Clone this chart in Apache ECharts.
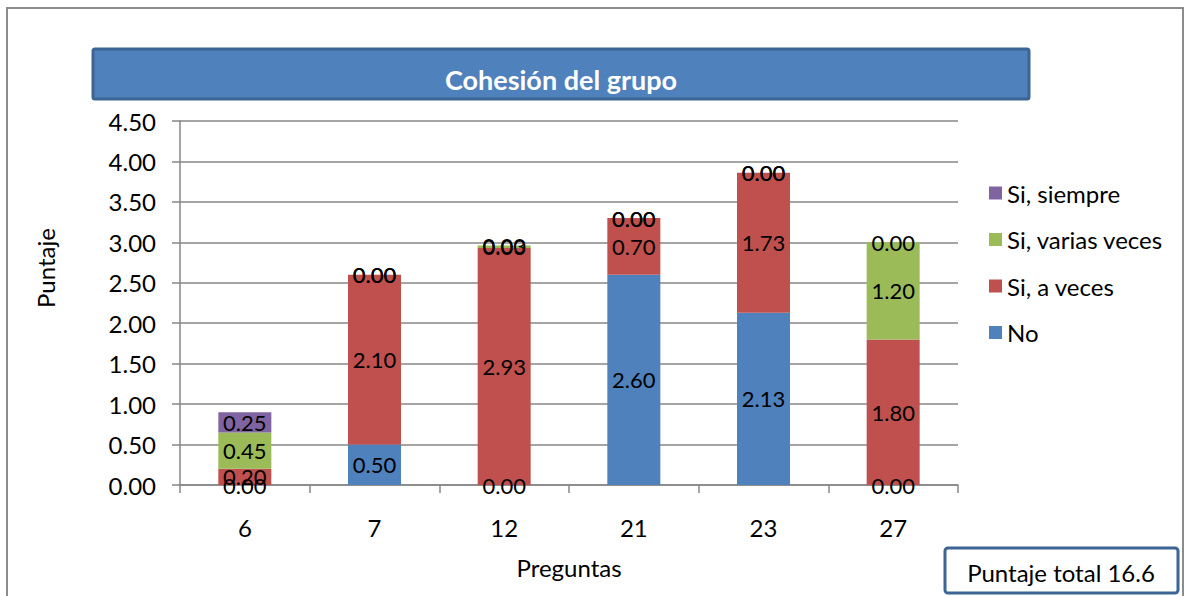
<!DOCTYPE html>
<html>
<head>
<meta charset="utf-8">
<script src="https://cdn.jsdelivr.net/npm/echarts@6/dist/echarts.min.js"></script>
<style>
  html, body { margin: 0; padding: 0; background: #fff; }
  #chart { width: 1187px; height: 596px; }
</style>
</head>
<body>
<div id="chart"></div>
<script>
// Preguntas evaluadas
const categories = ['6', '7', '12', '21', '23', '27'];

// Puntaje por respuesta
const noValues       = [0.00, 0.50, 0.00, 2.60, 2.13, 0.00];
const aVecesValues   = [0.20, 2.10, 2.93, 0.70, 1.73, 1.80];
const variasValues   = [0.45, 0.00, 0.03, 0.00, 0.00, 1.20];
const siempreValues  = [0.25, 0.00, 0.00, 0.00, 0.00, 0.00];

const yTicks = { min: 0, max: 4.5, interval: 0.5 };

const FONT = 'Lato, "Open Sans", "DejaVu Sans", sans-serif';
const GRAY = '#878787';

const total = [noValues, aVecesValues, variasValues, siempreValues]
  .reduce((s, arr) => s + arr.reduce((a, b) => a + b, 0), 0);

function stackSeries(name, data, color) {
  return {
    name: name,
    type: 'bar',
    stack: 'puntaje',
    data: data,
    barWidth: 53,
    itemStyle: { color: color },
    label: {
      show: true,
      position: 'inside',
      color: '#000',
      fontFamily: FONT,
      fontSize: 22,
      formatter: p => Number(p.value).toFixed(2)
    },
    emphasis: { disabled: true }
  };
}

const chart = echarts.init(document.getElementById('chart'), null, { renderer: 'svg' });

chart.setOption({
  animation: false,
  backgroundColor: '#fff',
  textStyle: { fontFamily: FONT },
  grid: { left: 180, right: 229, top: 121, bottom: 111, containLabel: false },
  legend: {
    orient: 'vertical',
    left: 984,
    top: 176,
    itemWidth: 13,
    itemHeight: 13,
    itemGap: 22.5,
    icon: 'rect',
    data: ['Si, siempre', 'Si, varias veces', 'Si, a veces', 'No'],
    textStyle: { fontFamily: FONT, fontSize: 24, color: '#000', lineHeight: 24 }
  },
  xAxis: {
    type: 'category',
    data: categories,
    name: 'Preguntas',
    nameLocation: 'middle',
    nameGap: 70,
    nameTextStyle: { fontFamily: FONT, fontSize: 24, color: '#000' },
    axisLine: { show: true, lineStyle: { color: GRAY, width: 1.5 } },
    axisTick: { show: true, length: 8, lineStyle: { color: GRAY, width: 1.5 } },
    axisLabel: { color: '#000', fontFamily: FONT, fontSize: 24, margin: 30 }
  },
  yAxis: {
    type: 'value',
    min: yTicks.min,
    max: yTicks.max,
    interval: yTicks.interval,
    axisLine: { show: true, lineStyle: { color: GRAY, width: 1.5 } },
    axisTick: { show: true, length: 8, lineStyle: { color: GRAY, width: 1.5 } },
    axisLabel: {
      color: '#000', fontFamily: FONT, fontSize: 24, margin: 24,
      formatter: v => v.toFixed(2)
    },
    splitLine: { show: true, lineStyle: { color: GRAY, width: 1.5 } }
  },
  series: [
    stackSeries('No', noValues, '#4F81BD'),
    stackSeries('Si, a veces', aVecesValues, '#C0504D'),
    stackSeries('Si, varias veces', variasValues, '#9BBB59'),
    stackSeries('Si, siempre', siempreValues, '#8064A2')
  ],
  graphic: [
    // marco exterior
    {
      type: 'rect', z: -10, silent: true,
      shape: { x: 7, y: 8, width: 1176, height: 620 },
      style: { fill: 'none', stroke: '#8c8c8c', lineWidth: 2 }
    },
    // banda del título
    {
      type: 'group', silent: true,
      children: [
        {
          type: 'rect',
          shape: { x: 93, y: 49, width: 936, height: 50, r: 2 },
          style: { fill: '#4F81BD', stroke: '#3C6494', lineWidth: 3 }
        },
        {
          type: 'text',
          x: 561, y: 79,
          style: {
            text: 'Cohesión del grupo',
            fill: '#fff',
            font: 'bold 27px ' + FONT,
            align: 'center',
            verticalAlign: 'middle'
          }
        }
      ]
    },
    // nombre del eje vertical
    {
      type: 'text', silent: true,
      x: 45, y: 268, rotation: Math.PI / 2,
      style: {
        text: 'Puntaje',
        fill: '#000',
        font: '24px ' + FONT,
        align: 'center',
        verticalAlign: 'middle'
      }
    },
    // recuadro del puntaje total
    {
      type: 'group', silent: true,
      children: [
        {
          type: 'rect',
          shape: { x: 945, y: 548, width: 233, height: 45, r: 3 },
          style: { fill: '#fff', stroke: '#3C6494', lineWidth: 3 }
        },
        {
          type: 'text',
          x: 1061, y: 572,
          style: {
            text: 'Puntaje total ' + total.toFixed(1),
            fill: '#000',
            font: '24px ' + FONT,
            align: 'center',
            verticalAlign: 'middle'
          }
        }
      ]
    }
  ]
});
</script>
</body>
</html>
